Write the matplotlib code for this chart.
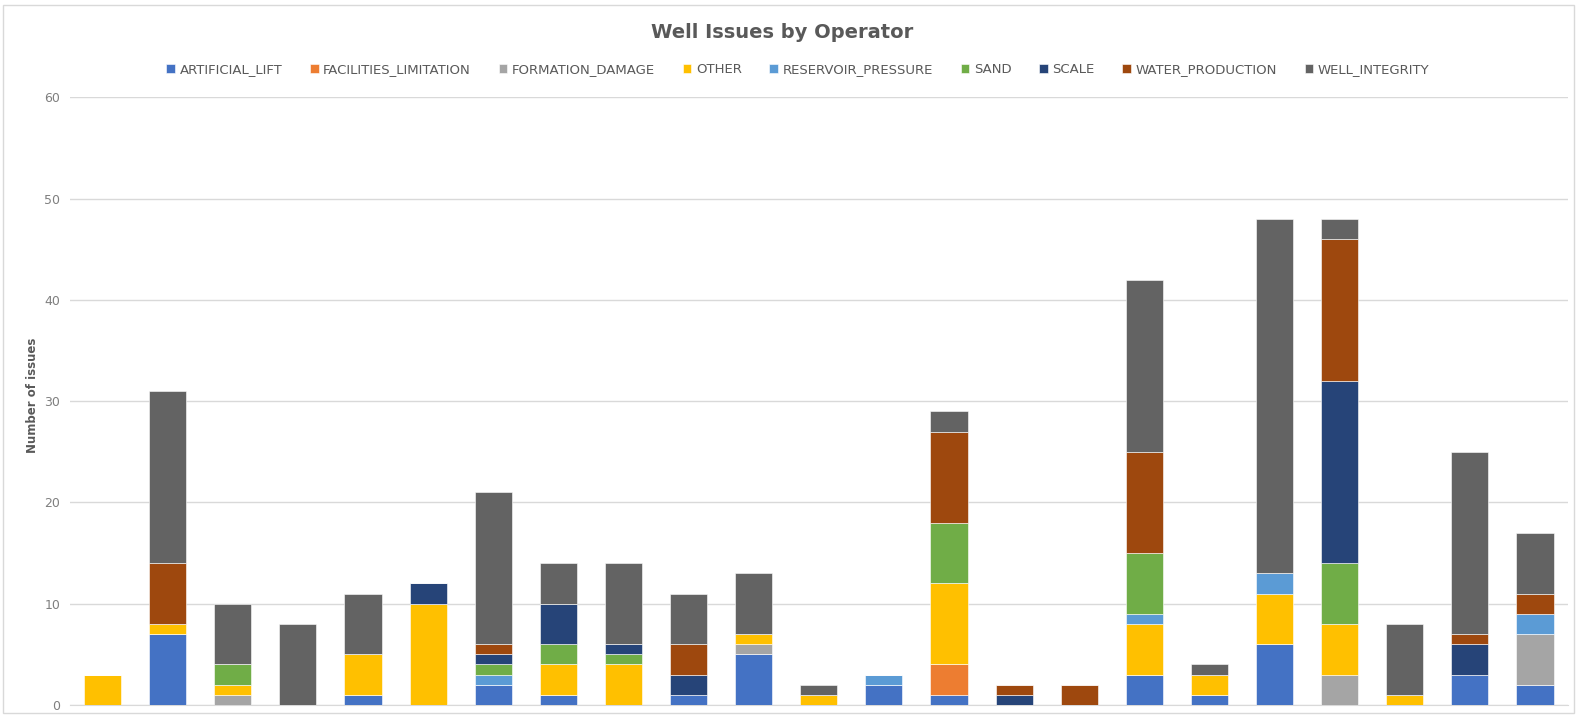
import numpy as np
import matplotlib.pyplot as plt
from matplotlib.patches import Rectangle

plt.rcParams['font.family'] = ['DejaVu Sans']

# 23 operators (no labels shown in the chart)
operators = [f"Op{i}" for i in range(1, 24)]

categories = ["ARTIFICIAL_LIFT", "FACILITIES_LIMITATION", "FORMATION_DAMAGE", "OTHER",
              "RESERVOIR_PRESSURE", "SAND", "SCALE", "WATER_PRODUCTION", "WELL_INTEGRITY"]
colors = ["#4472C4", "#ED7D31", "#A5A5A5", "#FFC000", "#5B9BD5",
          "#70AD47", "#264478", "#9E480E", "#636363"]

artificial_lift       = [0, 7, 0, 0, 1, 0, 2, 1, 0, 1, 5, 0, 2, 1, 0, 0, 3, 1, 6, 0, 0, 3, 2]
facilities_limitation = [0, 0, 0, 0, 0, 0, 0, 0, 0, 0, 0, 0, 0, 3, 0, 0, 0, 0, 0, 0, 0, 0, 0]
formation_damage      = [0, 0, 1, 0, 0, 0, 0, 0, 0, 0, 1, 0, 0, 0, 0, 0, 0, 0, 0, 3, 0, 0, 5]
other                 = [3, 1, 1, 0, 4, 10, 0, 3, 4, 0, 1, 1, 0, 8, 0, 0, 5, 2, 5, 5, 1, 0, 0]
reservoir_pressure    = [0, 0, 0, 0, 0, 0, 1, 0, 0, 0, 0, 0, 1, 0, 0, 0, 1, 0, 2, 0, 0, 0, 2]
sand                  = [0, 0, 2, 0, 0, 0, 1, 2, 1, 0, 0, 0, 0, 6, 0, 0, 6, 0, 0, 6, 0, 0, 0]
scale                 = [0, 0, 0, 0, 0, 2, 1, 4, 1, 2, 0, 0, 0, 0, 1, 0, 0, 0, 0, 18, 0, 3, 0]
water_production      = [0, 6, 0, 0, 0, 0, 1, 0, 0, 3, 0, 0, 0, 9, 1, 2, 10, 0, 0, 14, 0, 1, 2]
well_integrity        = [0, 17, 6, 8, 6, 0, 15, 4, 8, 5, 6, 1, 0, 2, 0, 0, 17, 1, 35, 2, 7, 18, 6]

series = [artificial_lift, facilities_limitation, formation_damage, other, reservoir_pressure,
          sand, scale, water_production, well_integrity]

fig = plt.figure(figsize=(15.77, 7.15), dpi=100)
ax = fig.add_axes([0.0444, 0.014, 0.9496, 0.85])

x = np.arange(len(operators))
bottom = np.zeros(len(operators))
for name, vals, c in zip(categories, series, colors):
    vals = np.array(vals, dtype=float)
    ax.bar(x, vals, width=0.57, bottom=bottom, color=c, label=name,
           edgecolor='white', linewidth=0.4, zorder=3)
    bottom += vals

ax.set_xlim(-0.5, len(operators) - 0.5)
ax.set_ylim(0, 60)
ax.set_yticks(range(0, 61, 10))
ax.yaxis.grid(True, color='#D9D9D9', linewidth=1, zorder=0)
ax.set_xticks([])
for s in ['top', 'right', 'left']:
    ax.spines[s].set_visible(False)
ax.spines['bottom'].set_color('#D9D9D9')
ax.tick_params(axis='y', length=0, labelsize=9, labelcolor='#7F7F7F', pad=7)
ax.set_ylabel("Number of issues", fontsize=8.5, color='#595959', fontweight='bold')
ax.yaxis.set_label_coords(-0.021, 0.51)

fig.text(0.496, 0.954, "Well Issues by Operator", ha='center', va='center',
         fontsize=14, fontweight='bold', color='#595959')

fig.legend(loc='center', bbox_to_anchor=(0.506, 0.903), ncol=9, frameon=False,
           fontsize=9.5, handlelength=0.65, handleheight=0.65, handletextpad=0.35,
           columnspacing=2.1, labelcolor='#595959')

fig.patches.append(Rectangle((0.002, 0.003), 0.996, 0.99, transform=fig.transFigure,
                             fill=False, edgecolor='#D9D9D9', linewidth=1))

fig.savefig("out.png", dpi=100)
